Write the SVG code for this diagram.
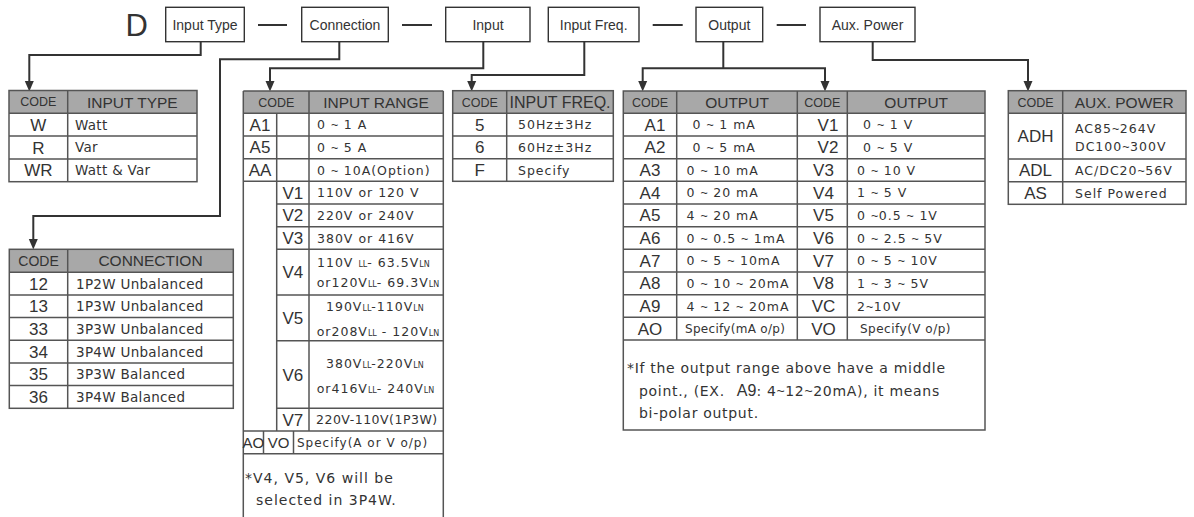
<svg xmlns="http://www.w3.org/2000/svg" width="1194" height="517" viewBox="0 0 1194 517">
<defs>
<style>
.bg{fill:#ffffff}
.box{fill:#ffffff;stroke:#333;stroke-width:1.4}
.bt{font-family:"Liberation Sans",Arial,sans-serif;font-size:14px;fill:#333;text-anchor:middle}
.big{font-family:"Liberation Sans",Arial,sans-serif;font-size:31px;fill:#333}
.dash{stroke:#333;stroke-width:2}
.con{fill:none;stroke:#333;stroke-width:2}
.ah{fill:#333}
.hdr{fill:#a8a8a8}
.ol{fill:none;stroke:#555;stroke-width:1.5}
.ln{stroke:#555;stroke-width:1.5}
.hd{font-family:"Liberation Sans",Arial,sans-serif;font-size:15.5px;fill:#333;text-anchor:middle}
.hc{font-family:"Liberation Sans",Arial,sans-serif;font-size:12.5px;fill:#333;text-anchor:middle}
.cd{font-family:"Liberation Sans",Arial,sans-serif;font-size:17px;fill:#333;text-anchor:middle}
.tx{font-family:"DejaVu Sans",Verdana,sans-serif;font-size:12.5px;letter-spacing:1px;fill:#333}
.tw{font-family:"DejaVu Sans",Verdana,sans-serif;font-size:13.5px;letter-spacing:0.3px;fill:#333}
.nt{font-family:"DejaVu Sans",Verdana,sans-serif;font-size:14px;letter-spacing:0.7px;fill:#333}
.sb{font-size:8px;letter-spacing:0}
.t{font-family:"Liberation Sans",Arial,sans-serif;letter-spacing:0.5px}
.a9{font-family:"Liberation Sans",Arial,sans-serif;font-size:16px;letter-spacing:0}
</style>
</defs>
<rect class="bg" x="0" y="0" width="1194" height="517"/>

<g id="title">
<text class="big" x="125.5" y="36">D</text>
<line class="dash" x1="258" y1="25" x2="287" y2="25"/>
<line class="dash" x1="402" y1="25" x2="432" y2="25"/>
<line class="dash" x1="652.7" y1="25" x2="682.7" y2="25"/>
<line class="dash" x1="776.7" y1="25" x2="806" y2="25"/>
</g>

<g id="box-input-type"><rect class="box" x="165.7" y="7.3" width="78.6" height="34.4"/><text class="bt" x="205" y="30">Input Type</text></g>
<g id="box-connection"><rect class="box" x="301.7" y="7.3" width="86.6" height="34.4"/><text class="bt" x="345" y="30">Connection</text></g>
<g id="box-input"><rect class="box" x="445.7" y="7.3" width="84.3" height="34.4"/><text class="bt" x="488" y="30">Input</text></g>
<g id="box-input-freq"><rect class="box" x="548.3" y="7.3" width="90.7" height="34.4"/><text class="bt" x="593.7" y="30">Input Freq.</text></g>
<g id="box-output"><rect class="box" x="696" y="7.3" width="66.7" height="34.4"/><text class="bt" x="729.3" y="30">Output</text></g>
<g id="box-aux-power"><rect class="box" x="820" y="7.3" width="95" height="34.4"/><text class="bt" x="867.5" y="30">Aux. Power</text></g>

<g id="connectors">
<path class="con" d="M200.7,41.7 V55 H29.3 V83"/>
<polygon class="ah" points="24.8,81 33.8,81 29.3,91.5"/>
<path class="con" d="M339.3,41.7 V59.3 H220 V216 H33.3 V241"/>
<polygon class="ah" points="28.8,239 37.8,239 33.3,249.5"/>
<path class="con" d="M483.3,41.7 V68.3 H270 V83"/>
<polygon class="ah" points="265.5,81 274.5,81 270,91.5"/>
<path class="con" d="M584.3,41.7 V75 H471.7 V83"/>
<polygon class="ah" points="467.2,81 476.2,81 471.7,91.5"/>
<path class="con" d="M723.3,41.7 V68.3"/>
<path class="con" d="M642.7,83 V68.3 H825 V83"/>
<polygon class="ah" points="638.2,81 647.2,81 642.7,91.5"/>
<polygon class="ah" points="820.5,81 829.5,81 825,91.5"/>
<path class="con" d="M872.7,41.7 V60 H1028 V83"/>
<polygon class="ah" points="1023.5,81 1032.5,81 1028,91.5"/>
</g>

<g id="table-input-type">
<rect class="hdr" x="9" y="90.5" width="188" height="22.8"/>
<rect class="ol" x="9" y="90.5" width="188" height="91.2"/>
<line class="ln" x1="9" y1="113.3" x2="197" y2="113.3"/>
<line class="ln" x1="9" y1="136.1" x2="197" y2="136.1"/>
<line class="ln" x1="9" y1="158.9" x2="197" y2="158.9"/>
<line class="ln" x1="67.7" y1="90.5" x2="67.7" y2="181.7"/>
<text class="hc" x="38.3" y="106.4">CODE</text>
<text class="hd" x="132.3" y="107.5">INPUT TYPE</text>
<text class="cd" x="38.3" y="130.8">W</text><text class="tw" x="75" y="129.6">Watt</text>
<text class="cd" x="38.3" y="153.6">R</text><text class="tw" x="75" y="152.4">Var</text>
<text class="cd" x="38.3" y="176.4">WR</text><text class="tw" x="75" y="175.2">Watt &amp; Var</text>
</g>

<g id="table-connection">
<rect class="hdr" x="9.3" y="249.3" width="224" height="23"/>
<rect class="ol" x="9.3" y="249.3" width="224" height="159"/>
<line class="ln" x1="9.3" y1="272.3" x2="233.3" y2="272.3"/>
<line class="ln" x1="9.3" y1="295" x2="233.3" y2="295"/>
<line class="ln" x1="9.3" y1="317.6" x2="233.3" y2="317.6"/>
<line class="ln" x1="9.3" y1="340.3" x2="233.3" y2="340.3"/>
<line class="ln" x1="9.3" y1="363" x2="233.3" y2="363"/>
<line class="ln" x1="9.3" y1="385.6" x2="233.3" y2="385.6"/>
<line class="ln" x1="67.7" y1="249.3" x2="67.7" y2="408.3"/>
<text class="hc" style="font-size:14px" x="38.5" y="265.8">CODE</text>
<text class="hd" x="150.5" y="266.4">CONNECTION</text>
<text class="cd" x="38.5" y="289.8">12</text><text class="tw" x="76" y="288.6">1P2W Unbalanced</text>
<text class="cd" x="38.5" y="312.4">13</text><text class="tw" x="76" y="311.2">1P3W Unbalanced</text>
<text class="cd" x="38.5" y="335.1">33</text><text class="tw" x="76" y="333.9">3P3W Unbalanced</text>
<text class="cd" x="38.5" y="357.8">34</text><text class="tw" x="76" y="356.6">3P4W Unbalanced</text>
<text class="cd" x="38.5" y="380.4">35</text><text class="tw" x="76" y="379.2">3P3W Balanced</text>
<text class="cd" x="38.5" y="403.1">36</text><text class="tw" x="76" y="401.9">3P4W Balanced</text>
</g>

<g id="table-input-range">
<rect class="hdr" x="243.3" y="91" width="200" height="22.3"/>
<line class="ln" x1="243.3" y1="91" x2="443.3" y2="91"/>
<line class="ln" x1="243.3" y1="91" x2="243.3" y2="517"/>
<line class="ln" x1="443.3" y1="91" x2="443.3" y2="517"/>
<line class="ln" x1="243.3" y1="113.3" x2="443.3" y2="113.3"/>
<line class="ln" x1="243.3" y1="136" x2="443.3" y2="136"/>
<line class="ln" x1="243.3" y1="158.7" x2="443.3" y2="158.7"/>
<line class="ln" x1="243.3" y1="181.3" x2="443.3" y2="181.3"/>
<line class="ln" x1="276.7" y1="204" x2="443.3" y2="204"/>
<line class="ln" x1="276.7" y1="226.7" x2="443.3" y2="226.7"/>
<line class="ln" x1="276.7" y1="249.3" x2="443.3" y2="249.3"/>
<line class="ln" x1="276.7" y1="295" x2="443.3" y2="295"/>
<line class="ln" x1="276.7" y1="340.7" x2="443.3" y2="340.7"/>
<line class="ln" x1="276.7" y1="408.3" x2="443.3" y2="408.3"/>
<line class="ln" x1="243.3" y1="431" x2="443.3" y2="431"/>
<line class="ln" x1="243.3" y1="453.7" x2="443.3" y2="453.7"/>
<line class="ln" x1="276.7" y1="113.3" x2="276.7" y2="431"/>
<line class="ln" x1="309" y1="91" x2="309" y2="431"/>
<line class="ln" x1="263.5" y1="431" x2="263.5" y2="453.7"/>
<line class="ln" x1="293.5" y1="431" x2="293.5" y2="453.7"/>
<text class="hc" x="276.2" y="106.5">CODE</text>
<text class="hd" x="376" y="107.8">INPUT RANGE</text>
<text class="cd" x="260" y="130.8">A1</text><text class="tx" x="317" y="129.3">0 <tspan class="t">~</tspan> 1 A</text>
<text class="cd" x="260" y="153.4">A5</text><text class="tx" x="317" y="152">0 <tspan class="t">~</tspan> 5 A</text>
<text class="cd" x="260" y="176.1">AA</text><text class="tx" x="317" y="174.6">0 <tspan class="t">~</tspan> 10A(Option)</text>
<text class="cd" x="292.8" y="198.8">V1</text><text class="tx" x="317" y="197.3">110V or 120 V</text>
<text class="cd" x="292.8" y="221.4">V2</text><text class="tx" x="317" y="219.9">220V or 240V</text>
<text class="cd" x="292.8" y="244.1">V3</text><text class="tx" x="317" y="242.6">380V or 416V</text>
<text class="cd" x="292.8" y="278.3">V4</text>
<text class="tx" x="317" y="267.3">110V <tspan class="sb">LL</tspan>- 63.5V<tspan class="sb">LN</tspan></text>
<text class="tx" x="316.7" y="287.3">or120V<tspan class="sb">LL</tspan>- 69.3V<tspan class="sb">LN</tspan></text>
<text class="cd" x="292.8" y="323.9">V5</text>
<text class="tx" x="326" y="311.3">190V<tspan class="sb">LL</tspan>-110V<tspan class="sb">LN</tspan></text>
<text class="tx" x="316.7" y="336.3">or208V<tspan class="sb">LL</tspan> - 120V<tspan class="sb">LN</tspan></text>
<text class="cd" x="292.8" y="380.6">V6</text>
<text class="tx" x="326" y="367.9">380V<tspan class="sb">LL</tspan>-220V<tspan class="sb">LN</tspan></text>
<text class="tx" x="316.7" y="392.9">or416V<tspan class="sb">LL</tspan>- 240V<tspan class="sb">LN</tspan></text>
<text class="cd" x="292.8" y="425.8">V7</text><text class="tx" style="letter-spacing:0.5px" x="316" y="424.3">220V-110V(1P3W)</text>
<text class="cd" style="font-size:15px" x="253.4" y="447.7">AO</text>
<text class="cd" style="font-size:15px" x="278.5" y="447.7">VO</text>
<text class="tx" style="font-size:12px" x="297" y="446.8">Specify(A or V o/p)</text>
<text class="nt" style="letter-spacing:1px" x="245" y="483.3">*V4, V5, V6 will be</text>
<text class="nt" style="letter-spacing:1px" x="256" y="505">selected in 3P4W.</text>
</g>

<g id="table-input-freq">
<rect class="hdr" x="452.7" y="90.7" width="160.6" height="22.6"/>
<rect class="ol" x="452.7" y="90.7" width="160.6" height="90.6"/>
<line class="ln" x1="452.7" y1="113.3" x2="613.3" y2="113.3"/>
<line class="ln" x1="452.7" y1="136" x2="613.3" y2="136"/>
<line class="ln" x1="452.7" y1="158.7" x2="613.3" y2="158.7"/>
<line class="ln" x1="506.7" y1="90.7" x2="506.7" y2="181.3"/>
<text class="hc" x="479.7" y="106.5">CODE</text>
<text class="hd" style="font-size:16px" x="560" y="107.8">INPUT FREQ.</text>
<text class="cd" x="479.7" y="130.8">5</text><text class="tx" x="518" y="129.3">50Hz±3Hz</text>
<text class="cd" x="479.7" y="153.4">6</text><text class="tx" x="518" y="152">60Hz±3Hz</text>
<text class="cd" x="479.7" y="176.1">F</text><text class="tx" x="518" y="174.6">Specify</text>
</g>

<g id="table-output">
<rect class="hdr" x="623.3" y="91" width="361.7" height="22.3"/>
<rect class="ol" x="623.3" y="91" width="361.7" height="339"/>
<line class="ln" x1="623.3" y1="113.3" x2="985" y2="113.3"/>
<line class="ln" x1="623.3" y1="136" x2="985" y2="136"/>
<line class="ln" x1="623.3" y1="158.7" x2="985" y2="158.7"/>
<line class="ln" x1="623.3" y1="181.3" x2="985" y2="181.3"/>
<line class="ln" x1="623.3" y1="204" x2="985" y2="204"/>
<line class="ln" x1="623.3" y1="226.7" x2="985" y2="226.7"/>
<line class="ln" x1="623.3" y1="249.3" x2="985" y2="249.3"/>
<line class="ln" x1="623.3" y1="272" x2="985" y2="272"/>
<line class="ln" x1="623.3" y1="294.7" x2="985" y2="294.7"/>
<line class="ln" x1="623.3" y1="317.3" x2="985" y2="317.3"/>
<line class="ln" x1="623.3" y1="340" x2="985" y2="340"/>
<line class="ln" x1="676.7" y1="91" x2="676.7" y2="340"/>
<line class="ln" x1="797.3" y1="91" x2="797.3" y2="340"/>
<line class="ln" x1="847.3" y1="91" x2="847.3" y2="340"/>
<text class="hc" x="650" y="106.5">CODE</text>
<text class="hd" x="737" y="107.8">OUTPUT</text>
<text class="hc" x="822.3" y="106.5">CODE</text>
<text class="hd" x="916.2" y="107.8">OUTPUT</text>
<text class="cd" x="655" y="130.7">A1</text><text class="tx" x="692.5" y="129.2">0 <tspan class="t">~</tspan> 1 mA</text>
<text class="cd" x="655" y="153.4">A2</text><text class="tx" x="692.5" y="151.9">0 <tspan class="t">~</tspan> 5 mA</text>
<text class="cd" x="650" y="176.1">A3</text><text class="tx" x="686.5" y="174.6">0 <tspan class="t">~</tspan> 10 mA</text>
<text class="cd" x="650" y="198.7">A4</text><text class="tx" x="686.5" y="197.2">0 <tspan class="t">~</tspan> 20 mA</text>
<text class="cd" x="650" y="221.4">A5</text><text class="tx" x="686.5" y="219.9">4 <tspan class="t">~</tspan> 20 mA</text>
<text class="cd" x="650" y="244.1">A6</text><text class="tx" x="686.5" y="242.6">0 <tspan class="t">~</tspan> 0.5 <tspan class="t">~</tspan> 1mA</text>
<text class="cd" x="650" y="266.7">A7</text><text class="tx" x="686.5" y="265.2">0 <tspan class="t">~</tspan> 5 <tspan class="t">~</tspan> 10mA</text>
<text class="cd" x="650" y="289.4">A8</text><text class="tx" x="686.5" y="287.9">0 <tspan class="t">~</tspan> 10 <tspan class="t">~</tspan> 20mA</text>
<text class="cd" x="650" y="312.1">A9</text><text class="tx" x="686.5" y="310.6">4 <tspan class="t">~</tspan> 12 <tspan class="t">~</tspan> 20mA</text>
<text class="cd" x="650" y="334.7">AO</text><text class="tx" style="font-size:12px;letter-spacing:0.3px" x="685" y="333.2">Specify(mA o/p)</text>
<text class="cd" x="828" y="130.7">V1</text><text class="tx" x="863" y="129.2">0 <tspan class="t">~</tspan> 1 V</text>
<text class="cd" x="828" y="153.4">V2</text><text class="tx" x="863" y="151.9">0 <tspan class="t">~</tspan> 5 V</text>
<text class="cd" x="823.5" y="176.1">V3</text><text class="tx" x="857" y="174.6">0 <tspan class="t">~</tspan> 10 V</text>
<text class="cd" x="823.5" y="198.7">V4</text><text class="tx" x="857" y="197.2">1 <tspan class="t">~</tspan> 5 V</text>
<text class="cd" x="823.5" y="221.4">V5</text><text class="tx" x="857" y="219.9">0 <tspan class="t">~</tspan>0.5 <tspan class="t">~</tspan> 1V</text>
<text class="cd" x="823.5" y="244.1">V6</text><text class="tx" x="857" y="242.6">0 <tspan class="t">~</tspan> 2.5 <tspan class="t">~</tspan> 5V</text>
<text class="cd" x="823.5" y="266.7">V7</text><text class="tx" x="857" y="265.2">0 <tspan class="t">~</tspan> 5 <tspan class="t">~</tspan> 10V</text>
<text class="cd" x="823.5" y="289.4">V8</text><text class="tx" x="857" y="287.9">1 <tspan class="t">~</tspan> 3 <tspan class="t">~</tspan> 5V</text>
<text class="cd" x="823.5" y="312.1">VC</text><text class="tx" x="857" y="310.6">2<tspan class="t">~</tspan>10V</text>
<text class="cd" x="823.5" y="334.7">VO</text><text class="tx" style="font-size:12px;letter-spacing:0.5px" x="860" y="333.2">Specify(V o/p)</text>
<text class="nt" x="627" y="373">*If the output range above have a middle</text>
<text class="nt" x="639" y="396">point., (EX.<tspan class="a9" dx="12">A9</tspan>: 4<tspan class="t">~</tspan>12<tspan class="t">~</tspan>20mA), it means</text>
<text class="nt" x="639" y="418">bi-polar output.</text>
</g>

<g id="table-aux-power">
<rect class="hdr" x="1008.3" y="90.7" width="177.7" height="22.6"/>
<rect class="ol" x="1008.3" y="90.7" width="177.7" height="113.6"/>
<line class="ln" x1="1008.3" y1="113.3" x2="1186" y2="113.3"/>
<line class="ln" x1="1008.3" y1="159" x2="1186" y2="159"/>
<line class="ln" x1="1008.3" y1="181.7" x2="1186" y2="181.7"/>
<line class="ln" x1="1062.7" y1="90.7" x2="1062.7" y2="204.3"/>
<text class="hc" x="1035.5" y="106.5">CODE</text>
<text class="hd" x="1124.3" y="107.8">AUX. POWER</text>
<text class="cd" x="1035.5" y="142.3">ADH</text>
<text class="tx" x="1075" y="132.9">AC85<tspan class="t">~</tspan>264V</text>
<text class="tx" x="1075" y="151.3">DC100<tspan class="t">~</tspan>300V</text>
<text class="cd" x="1035.5" y="176.4">ADL</text><text class="tx" x="1075" y="175">AC/DC20<tspan class="t">~</tspan>56V</text>
<text class="cd" x="1035.5" y="199.1">AS</text><text class="tx" x="1075" y="197.6">Self Powered</text>
</g>
</svg>
